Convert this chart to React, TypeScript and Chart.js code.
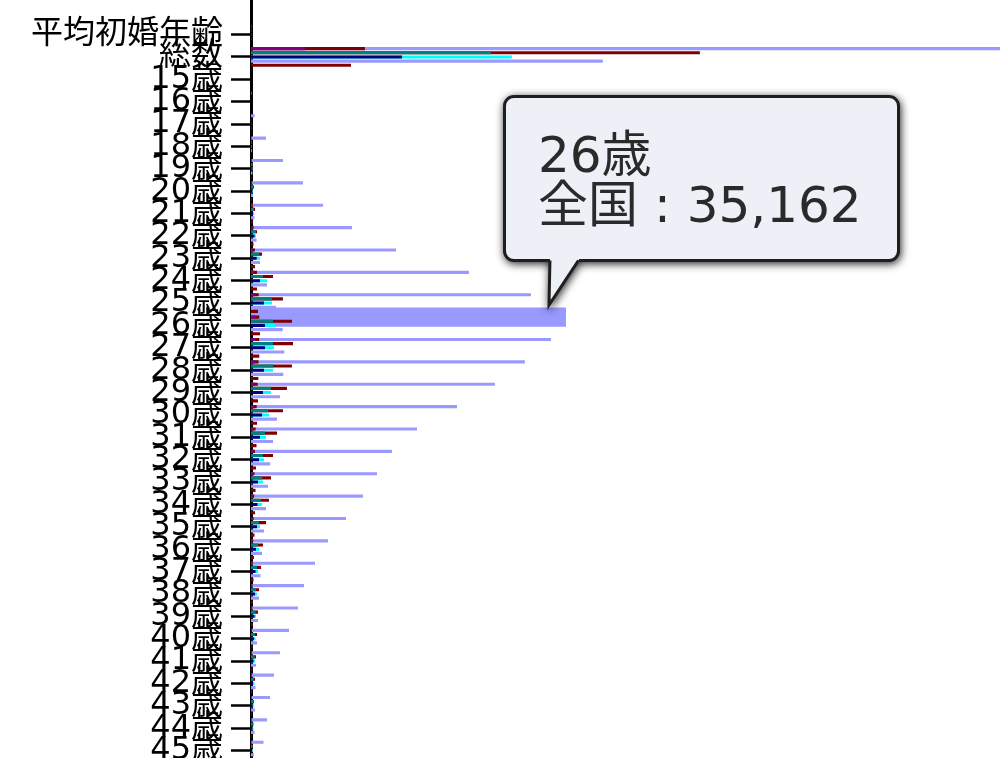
import React, { useEffect, useRef } from "react";
import { Chart, registerables } from "chart.js";

Chart.register(...registerables);

// ---- data ----
const categories: string[] = [
  "", "平均初婚年齢", "総数",
  "15歳", "16歳", "17歳", "18歳", "19歳", "20歳", "21歳", "22歳", "23歳", "24歳",
  "25歳", "26歳", "27歳", "28歳", "29歳", "30歳", "31歳", "32歳", "33歳", "34歳",
  "35歳", "36歳", "37歳", "38歳", "39歳", "40歳", "41歳", "42歳", "43歳", "44歳", "45歳",
];

const zenkoku = [null, 31.1, 480000,
  10, 60, 420, 1720, 3660, 5950, 8240, 11560, 16600, 24960,
  32060, 35162, 34350, 31370, 27940, 23590, 19010, 16140, 14430, 12820,
  10880, 8820, 7330, 6070, 5380, 4350, 3320, 2630, 2180, 1830, 1430];

const okinawa = [null, 31.6, 6180,
  0, 1, 5, 20, 40, 70, 100, 150, 220, 340,
  460, 520, 520, 480, 430, 370, 300, 250, 220, 200,
  170, 140, 120, 100, 90, 70, 60, 50, 40, 30, 25];

const hokkaido = [null, 31.3, 13050,
  0, 2, 10, 40, 80, 130, 200, 300, 450, 680,
  880, 950, 930, 860, 760, 650, 530, 450, 400, 360,
  300, 250, 210, 170, 150, 120, 100, 80, 65, 55, 45];

const osaka = [null, 31.0, 27480,
  0, 5, 20, 80, 150, 230, 340, 570, 920, 1370,
  2400, 2520, 2520, 2520, 2290, 1950, 1600, 1370, 1260, 1150,
  920, 800, 690, 570, 520, 460, 400, 340, 290, 230, 170];

const tokyo = [null, 32.3, 51410,
  0, 5, 30, 120, 220, 340, 460, 690, 1260, 2520,
  3660, 4690, 4810, 4690, 4120, 3660, 2980, 2520, 2290, 2060,
  1720, 1370, 1150, 920, 800, 690, 570, 460, 340, 290, 230];

const saitama = [null, 31.2, 17300,
  0, 3, 15, 50, 100, 170, 230, 400, 650, 1030,
  1490, 1600, 1600, 1490, 1370, 1260, 1030, 920, 800, 740,
  690, 570, 520, 460, 400, 340, 290, 230, 200, 170, 140];

const aichi = [null, 30.8, 29880,
  0, 5, 25, 90, 160, 230, 340, 570, 1030, 1830,
  2400, 2750, 2630, 2520, 2290, 2060, 1720, 1490, 1370, 1260,
  1030, 920, 800, 690, 570, 520, 460, 400, 340, 290, 230];

const kanagawa = [null, 31.4, 40300,
  0, 5, 30, 100, 170, 230, 400, 630, 1030, 1830,
  2860, 3630, 3810, 3700, 3320, 2980, 2520, 2180, 1950, 1720,
  1490, 1260, 1090, 920, 800, 690, 570, 520, 460, 400, 340];

const fukuoka = [null, 30.6, 11450,
  0, 2, 10, 40, 70, 110, 170, 290, 460, 690,
  800, 1030, 950, 840, 800, 690, 630, 570, 520, 460,
  400, 340, 290, 230, 210, 170, 150, 130, 110, 100, 90];

const HOVER_INDEX = 14; // 26歳
const X_MAX = 85786;

const TIP_FONT = '"DejaVu Sans", "Noto Sans CJK JP", sans-serif';

export default function App() {
  const canvasRef = useRef<HTMLCanvasElement | null>(null);
  const tipRef = useRef<HTMLDivElement | null>(null);
  const titleRef = useRef<HTMLDivElement | null>(null);
  const bodyRef = useRef<HTMLDivElement | null>(null);

  useEffect(() => {
    const canvas = canvasRef.current;
    if (!canvas) return;

    const mk = (label: string, data: any[], color: string, stack: string, order = 0) => ({
      label,
      data,
      // scriptable so each bar resolves its own (hover) options
      backgroundColor: () => color,
      hoverBackgroundColor: () => color,
      borderWidth: 0,
      stack,
      order,
      hoverInflateAmount: 8,
    });

    const external = (ctx: any) => {
      const { chart, tooltip } = ctx;
      const el = tipRef.current;
      if (!el) return;
      const pts = tooltip.dataPoints || tooltip._tooltipItems || [];
      if (!pts.length) {
        el.style.display = "none";
        return;
      }
      const bar: any = pts[0].element;
      const x = bar.x;
      const y = bar.y;
      el.style.display = "block";
      el.style.left = `${chart.canvas.offsetLeft + x - 55}px`;
      el.style.top = `${chart.canvas.offsetTop + y - 222}px`;
      if (titleRef.current) titleRef.current.textContent = (tooltip.title || []).join(" ");
      if (bodyRef.current)
        bodyRef.current.textContent = (tooltip.body || [])
          .map((b: any) => b.lines.join(" "))
          .join(" ");
    };

    const chart = new Chart(canvas, {
      type: "bar",
      data: {
        labels: categories,
        datasets: [
          mk("全国", zenkoku, "#9999FF", "r1", 1),
          mk("沖縄県", okinawa, "#800080", "r1"),
          mk("北海道", hokkaido, "#800000", "r1"),
          mk("大阪府", osaka, "#008080", "r2"),
          mk("東京都", tokyo, "#800000", "r2"),
          mk("埼玉県", saitama, "#000080", "r3"),
          mk("愛知県", aichi, "#00FFFF", "r3"),
          mk("神奈川県", kanagawa, "#9999FF", "r4"),
          mk("福岡県", fukuoka, "#800000", "r5"),
        ] as any,
      },
      options: {
        indexAxis: "y",
        responsive: false,
        maintainAspectRatio: false,
        animation: false,
        events: [],
        layout: { padding: { top: 1, bottom: 8.25, left: 0, right: 0 } },
        datasets: { bar: { categoryPercentage: 0.93, barPercentage: 0.75 } } as any,
        scales: {
          x: { type: "linear", display: false, min: 0, max: X_MAX, stacked: false },
          y: {
            type: "category",
            stacked: true,
            offset: true,
            grid: {
              offset: false,
              drawOnChartArea: false,
              drawTicks: true,
              tickLength: 20,
              tickWidth: 2.5,
              color: "#000",
              tickColor: (c: any) => (c.index === 0 ? "rgba(0,0,0,0)" : "#000"),
            },
            border: { display: true, color: "#000", width: 3 },
            ticks: {
              autoSkip: false,
              padding: 8,
              color: "#000",
              font: { family: '"DejaVu Sans", "Noto Sans CJK JP", sans-serif', size: 32 },
            },
            afterFit: (s: any) => {
              s.width = 251;
              s.paddingTop = 0;
              s.paddingBottom = 0;
            },
          } as any,
        },
        plugins: {
          legend: { display: false },
          tooltip: {
            enabled: false,
            external,
            callbacks: {
              label: (c: any) => `${c.dataset.label} : ${Number(c.parsed.x).toLocaleString("en-US")}`,
            },
          },
        },
      } as any,
    });

    const active = [{ datasetIndex: 0, index: HOVER_INDEX }];
    chart.setActiveElements(active);
    chart.tooltip?.setActiveElements(active, { x: 0, y: 0 });
    chart.update();

    return () => {
      chart.destroy();
    };
  }, []);

  const textStyle: React.CSSProperties = {
    position: "absolute",
    left: 32,
    fontSize: 50,
    lineHeight: "50px",
    whiteSpace: "nowrap",
    color: "#2a2a2a",
    fontFamily: TIP_FONT,
  };

  return (
    <div
      style={{
        position: "fixed",
        left: 0,
        top: 0,
        width: "100vw",
        height: "100vh",
        overflow: "hidden",
        background: "#fff",
      }}
    >
      <canvas
        ref={canvasRef}
        width={1000}
        height={770}
        style={{ position: "absolute", left: 0, top: 0, width: "1000px", height: "770px" }}
      />
      <div
        ref={tipRef}
        style={{
          position: "absolute",
          display: "none",
          width: 397,
          height: 215,
          filter: "drop-shadow(1px 2px 4px rgba(0,0,0,0.85))",
          pointerEvents: "none",
        }}
      >
        <div
          style={{
            position: "absolute",
            left: 0,
            top: 0,
            width: 397,
            height: 167,
            boxSizing: "border-box",
            background: "#eef0f7",
            border: "3px solid #1e1e1e",
            borderRadius: 11,
          }}
        >
          <div ref={titleRef} style={{ ...textStyle, top: 32 }} />
          <div ref={bodyRef} style={{ ...textStyle, top: 82 }} />
        </div>
        <svg
          width={80}
          height={56}
          style={{ position: "absolute", left: 0, top: 160, overflow: "visible" }}
        >
          <polygon points="47,3 77,3 46,50" fill="#eef0f7" />
          <polyline
            points="46.95,5.5 46,50 75.4,5.5"
            fill="none"
            stroke="#1e1e1e"
            strokeWidth={3}
            strokeLinejoin="miter"
          />
        </svg>
      </div>
    </div>
  );
}
